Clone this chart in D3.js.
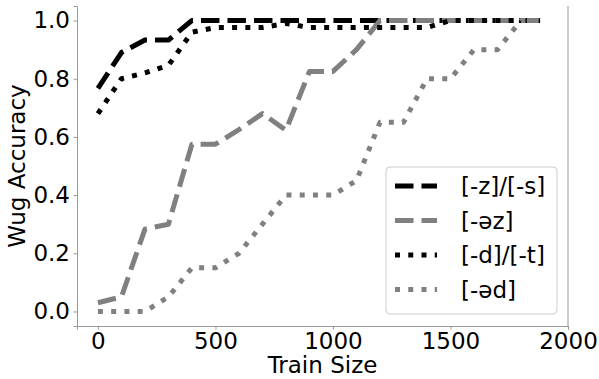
<!DOCTYPE html>
<html>
<head>
<meta charset="utf-8">
<script src="https://cdn.jsdelivr.net/npm/d3@7"></script>
<style>
  body { margin: 0; background: #fff; }
  svg { display: block; font-family: 'DejaVu Sans', sans-serif; }
</style>
</head>
<body>
<div id="chart"></div>
<script>
// train sizes
const trainSizes = [0, 100, 200, 300, 400, 500, 600, 700, 800, 900,
  1000, 1100, 1200, 1300, 1400, 1500, 1600, 1700, 1800, 1900];

// accuracy per suffix class
const zsAcc = [0.767, 0.89, 0.933, 0.933, 1, 1, 1, 1, 1, 1,
  1, 1, 1, 1, 1, 1, 1, 1, 1, 1];
const ezAcc = [0.03, 0.05, 0.283, 0.3, 0.575, 0.575, 0.625, 0.68, 0.623, 0.825,
  0.825, 0.9, 1, 1, 1, 1, 1, 1, 1, 1];
const dtAcc = [0.68, 0.8, 0.82, 0.846, 0.96, 0.976, 0.976, 0.976, 0.99, 0.976,
  0.976, 0.976, 0.976, 0.976, 0.976, 1, 1, 1, 1, 1];
const edAcc = [0, 0, 0, 0.05, 0.15, 0.15, 0.2, 0.3, 0.4, 0.4,
  0.4, 0.45, 0.65, 0.65, 0.8, 0.8, 0.9, 0.9, 1, 1];

const seriesNames = ['[-z]/[-s]', '[-əz]', '[-d]/[-t]', '[-əd]'];
const xTicks = [0, 500, 1000, 1500, 2000];
const yTicks = [0, 0.2, 0.4, 0.6, 0.8, 1.0];

const width = 599, height = 379;
const margin = { top: 6, right: 31, bottom: 53, left: 77 };
const lw = 5;
const styles = [
  { color: '#000', dash: [3.7 * lw, 1.6 * lw] },
  { color: '#808080', dash: [3.7 * lw, 1.6 * lw] },
  { color: '#000', dash: [1 * lw, 1.65 * lw] },
  { color: '#808080', dash: [1 * lw, 1.65 * lw] }
];
const spineColor = '#999';
const fontSize = 23;

const svg = d3.select('#chart').append('svg')
  .attr('width', width)
  .attr('height', height);

const x = d3.scaleLinear().domain([-89, 2000])
  .range([margin.left, width - margin.right]);
const y = d3.scaleLinear().domain([-0.05, 1.05])
  .range([height - margin.bottom, margin.top]);

/* ---------- axes ---------- */
const xAxis = svg.append('g')
  .attr('transform', 'translate(0,' + (height - margin.bottom) + ')')
  .call(d3.axisBottom(x).tickValues(xTicks).tickFormat(d3.format('d'))
    .tickSizeOuter(0).tickSize(3.5).tickPadding(3.5));
const yAxis = svg.append('g')
  .attr('transform', 'translate(' + margin.left + ',0)')
  .call(d3.axisLeft(y).tickValues(yTicks).tickFormat(d3.format('.1f'))
    .tickSizeOuter(0).tickSize(3.5).tickPadding(3.5));

[xAxis, yAxis].forEach(a => {
  a.select('.domain').attr('stroke', spineColor).attr('stroke-width', 1);
  a.selectAll('.tick line').attr('stroke', spineColor);
  a.selectAll('.tick text')
    .attr('fill', '#000')
    .style('font-size', fontSize + 'px')
    .style('font-family', "'DejaVu Sans', sans-serif");
});

// right spine
svg.append('line')
  .attr('x1', width - margin.right).attr('x2', width - margin.right)
  .attr('y1', margin.top).attr('y2', height - margin.bottom)
  .attr('stroke', spineColor);

svg.append('text')
  .attr('x', (margin.left + width - margin.right) / 2)
  .attr('y', 373)
  .attr('text-anchor', 'middle')
  .style('font-size', fontSize + 'px')
  .text('Train Size');

svg.append('text')
  .attr('transform', 'translate(25,' + ((margin.top + height - margin.bottom) / 2) + ') rotate(-90)')
  .attr('text-anchor', 'middle')
  .style('font-size', fontSize + 'px')
  .text('Wug Accuracy');

/* ---------- lines ---------- */
const allSeries = [zsAcc, ezAcc, dtAcc, edAcc];
const line = d3.line()
  .x((d, i) => x(trainSizes[i]))
  .y(d => y(d));

allSeries.forEach((s, k) => {
  svg.append('path')
    .datum(s)
    .attr('d', line)
    .attr('fill', 'none')
    .attr('stroke', styles[k].color)
    .attr('stroke-width', lw)
    .attr('stroke-dasharray', styles[k].dash.join(','))
    .attr('stroke-linecap', 'butt')
    .attr('stroke-linejoin', 'round');
});

/* ---------- legend ---------- */
const lg = svg.append('g').attr('transform', 'translate(386,167)');
lg.append('rect')
  .attr('width', 171)
  .attr('height', 147)
  .attr('rx', 4).attr('ry', 4)
  .attr('fill', 'rgba(255,255,255,0.8)')
  .attr('stroke', '#ccc');

seriesNames.forEach((name, k) => {
  const cy = 19 + k * 34.5;
  lg.append('line')
    .attr('x1', 9).attr('x2', 51)
    .attr('y1', cy).attr('y2', cy)
    .attr('stroke', styles[k].color)
    .attr('stroke-width', lw)
    .attr('stroke-dasharray', styles[k].dash.join(','));
  lg.append('text')
    .attr('x', 75)
    .attr('y', cy + 8)
    .style('font-size', fontSize + 'px')
    .text(name);
});
</script>
</body>
</html>
